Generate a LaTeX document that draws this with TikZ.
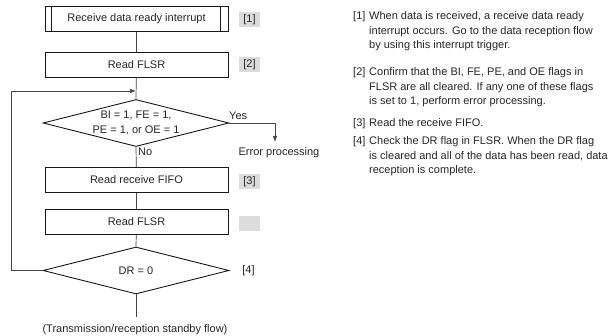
\documentclass[tikz,border=0pt]{standalone}
\usepackage{fontspec}
\setmainfont{Liberation Sans}
\usetikzlibrary{shapes.geometric,arrows.meta,calc}
\definecolor{tagbg}{HTML}{DCDCDC}
\definecolor{ln}{HTML}{444444}
\begin{document}
\begin{tikzpicture}[x=1pt,y=-1pt,
  every node/.style={font=\fontsize{11}{13}\selectfont,text=black!85},
  procbox/.style={draw=black!90,line width=0.9pt,minimum width=183pt,minimum height=25pt,inner sep=0pt},
  decide/.style={draw=black!90,line width=0.9pt,diamond,aspect=4,inner sep=0pt,minimum width=186pt,minimum height=47pt},
  tag/.style={fill=tagbg,minimum width=21pt,minimum height=15pt,inner sep=0pt},
  notag/.style={minimum width=21pt,minimum height=15pt,inner sep=0pt},
  flow/.style={draw=ln,line width=0.7pt},
  arr/.style={flow,-{Latex[length=6pt,width=4.5pt]}},
  note/.style={align=left,anchor=base west,inner sep=0pt,font=\fontsize{11}{14.6}\selectfont}
]
\useasboundingbox (0,0) rectangle (610,336);
\node[procbox] (b1) at (136.5,18.7) {Receive data ready interrupt};
\draw[black!90,line width=0.9pt] ($(b1.north west)+(6.7,0)$) coordinate (v1a) -- ($(b1.south west)+(6.7,0)$) coordinate (v1b);
\draw[black!90,line width=0.9pt] ($(b1.north east)+(-8,0)$) coordinate (v2a) -- ($(b1.south east)+(-8,0)$) coordinate (v2b);
\node[procbox] (b2) at (136.5,64.5) {Read FLSR};
\node[decide,align=center,font=\fontsize{11}{14.5}\selectfont] (d1) at (136,123) {BI = 1, FE = 1,\\PE = 1, or OE = 1};
\node[procbox] (b3) at (136.5,180) {Read receive FIFO};
\node[procbox] (b4) at (136.5,222) {Read FLSR};
\node[decide] (d2) at (136,270.5) {DR = 0};

\node[tag] (t1) at (249.5,19.5) {[1]};
\node[tag] (t2) at (249.5,64.5) {[2]};
\node[tag] (t3) at (249.5,181.5) {[3]};
\node[tag] (t0) at (249.5,223.5) {};
\node[notag] (t4) at (248.5,270.5) {[4]};

\coordinate (j1) at (136,91);
\coordinate (l1) at (11,91);
\coordinate (l2) at (11,270.5);
\coordinate (y1) at (275,123);
\coordinate (y2) at (275,142);
\coordinate (e1) at (136,317);

\draw[flow] (b1) -- (b2);
\draw[flow] (b2) -- (d1.north);
\draw[flow] (d1.south) -- (b3);
\draw[flow] (b3) -- (b4);
\draw[flow] (b4) -- (d2.north);
\draw[flow] (d2.south) -- (e1);
\draw[arr] (d2.west) -- (l2) -- (l1) -- (j1);
\draw[arr] (d1.east) -- (y1) -- (y2);

\node[anchor=south west,inner sep=0pt] (yes) at (229,120) {Yes};
\node[anchor=north west,inner sep=0pt] (no) at (138,148) {No};
\node[anchor=north,inner sep=0pt] (err) at (279,147.5) {Error processing};
\node[anchor=north,inner sep=0pt] (end) at (135,324) {(Transmission/reception standby flow)};

\node[note] (n1) at (353,19.5) {\makebox[16pt][l]{[1]}\parbox[t]{240pt}{When data is received, a receive data ready\\interrupt occurs. Go to the data reception flow\\by using this interrupt trigger.}};
\node[note] (n2) at (353,75.5) {\makebox[16pt][l]{[2]}\parbox[t]{240pt}{Confirm that the BI, FE, PE, and OE flags in\\FLSR are all cleared. If any one of these flags\\is set to 1, perform error processing.}};
\node[note] (n3) at (353,126.5) {\makebox[16pt][l]{[3]}Read the receive FIFO.};
\node[note] (n4) at (353,144.5) {\makebox[16pt][l]{[4]}\parbox[t]{240pt}{Check the DR flag in FLSR. When the DR flag\\is cleared and all of the data has been read, data\\reception is complete.}};
\end{tikzpicture}
\end{document}
